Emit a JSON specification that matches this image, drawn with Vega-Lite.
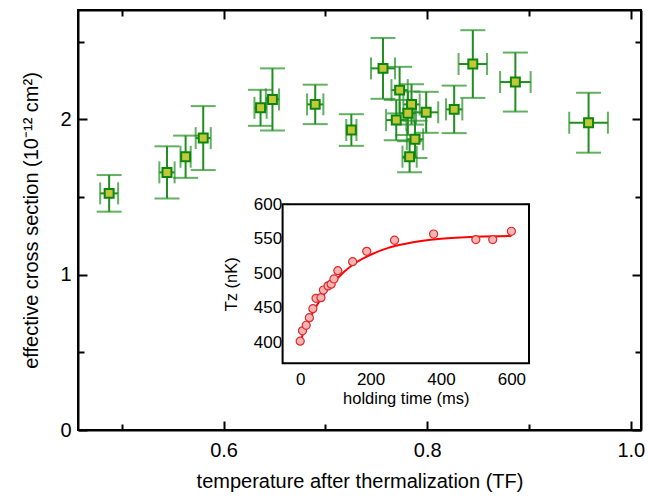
{
  "$schema": "https://vega.github.io/schema/vega-lite/v6.json",
  "width": 563,
  "height": 420,
  "autosize": "none",
  "padding": {"left": 78, "top": 10, "right": 7, "bottom": 70},
  "config": {
    "font": "Liberation Sans",
    "axis": {"grid": false, "labelFont": "Liberation Sans", "titleFont": "Liberation Sans", "labelColor": "black", "titleColor": "black", "titleFontWeight": "normal", "domainColor": "black", "tickColor": "black"},
    "view": {"stroke": "black", "strokeWidth": 2}
  },
  "datasets": {
    "main": [
      {"T": 0.4876, "Terr": 0.0088, "s": 1.524, "serr": 0.118},
      {"T": 0.5444, "Terr": 0.0075, "s": 1.659, "serr": 0.168},
      {"T": 0.5627, "Terr": 0.005, "s": 1.760, "serr": 0.136},
      {"T": 0.580, "Terr": 0.0074, "s": 1.880, "serr": 0.206},
      {"T": 0.6363, "Terr": 0.006, "s": 2.075, "serr": 0.116},
      {"T": 0.648, "Terr": 0.0065, "s": 2.129, "serr": 0.20},
      {"T": 0.690, "Terr": 0.008, "s": 2.097, "serr": 0.127},
      {"T": 0.7255, "Terr": 0.005, "s": 1.932, "serr": 0.102},
      {"T": 0.7566, "Terr": 0.0118, "s": 2.329, "serr": 0.196},
      {"T": 0.7729, "Terr": 0.008, "s": 2.189, "serr": 0.15},
      {"T": 0.7846, "Terr": 0.008, "s": 2.097, "serr": 0.13},
      {"T": 0.799, "Terr": 0.0118, "s": 2.046, "serr": 0.132},
      {"T": 0.7696, "Terr": 0.01, "s": 1.996, "serr": 0.13},
      {"T": 0.781, "Terr": 0.008, "s": 2.04, "serr": 0.14},
      {"T": 0.788, "Terr": 0.008, "s": 1.872, "serr": 0.12},
      {"T": 0.7827, "Terr": 0.007, "s": 1.760, "serr": 0.10},
      {"T": 0.8265, "Terr": 0.008, "s": 2.065, "serr": 0.153},
      {"T": 0.8448, "Terr": 0.014, "s": 2.357, "serr": 0.218},
      {"T": 0.8866, "Terr": 0.015, "s": 2.241, "serr": 0.19},
      {"T": 0.9585, "Terr": 0.019, "s": 1.979, "serr": 0.193}
    ],
    "inset": [
      {"t": 0, "Tz": 402}, {"t": 6.5, "Tz": 417}, {"t": 17, "Tz": 425}, {"t": 26, "Tz": 436},
      {"t": 36, "Tz": 449}, {"t": 45, "Tz": 464}, {"t": 59, "Tz": 465}, {"t": 66, "Tz": 476},
      {"t": 79, "Tz": 482}, {"t": 88, "Tz": 484.5}, {"t": 96, "Tz": 492}, {"t": 107, "Tz": 504},
      {"t": 149, "Tz": 517}, {"t": 189, "Tz": 532}, {"t": 268, "Tz": 548}, {"t": 379, "Tz": 557},
      {"t": 499, "Tz": 549}, {"t": 547, "Tz": 549}, {"t": 600, "Tz": 561}
    ],
    "fit": [
      {"t": 0, "Tz": 402}, {"t": 25, "Tz": 432}, {"t": 50, "Tz": 456}, {"t": 75, "Tz": 475},
      {"t": 100, "Tz": 490}, {"t": 150, "Tz": 513}, {"t": 200, "Tz": 527}, {"t": 250, "Tz": 537},
      {"t": 300, "Tz": 543}, {"t": 400, "Tz": 550}, {"t": 500, "Tz": 553}, {"t": 600, "Tz": 554}
    ]
  },
  "layer": [
    {
      "data": {"name": "main"},
      "resolve": {"axis": {"x": "independent", "y": "independent"}},
      "layer": [
        {
          "mark": {"type": "errorbar", "ticks": {"size": 25}, "thickness": 2, "color": "#1f8f1f"},
          "encoding": {
            "x": {"field": "T", "type": "quantitative", "scale": {"domain": [0.457, 1.01], "nice": false, "zero": false}, "axis": null},
            "y": {"field": "s", "type": "quantitative", "scale": {"domain": [0, 2.705], "nice": false, "zero": false}, "axis": null},
            "yError": {"field": "serr"}
          }
        },
        {
          "mark": {"type": "errorbar", "ticks": {"size": 22}, "thickness": 2, "color": "#1f8f1f"},
          "encoding": {
            "x": {"field": "T", "type": "quantitative", "scale": {"domain": [0.457, 1.01], "nice": false, "zero": false}, "axis": null},
            "xError": {"field": "Terr"},
            "y": {"field": "s", "type": "quantitative", "scale": {"domain": [0, 2.705], "nice": false, "zero": false}, "axis": null}
          }
        },
        {
          "mark": {"type": "point", "shape": "square", "filled": true, "size": 80, "fill": "#c3c83a", "stroke": "#0e860e", "strokeWidth": 2, "opacity": 1},
          "encoding": {
            "x": {"field": "T", "type": "quantitative", "scale": {"domain": [0.457, 1.01], "nice": false, "zero": false},
              "axis": {"orient": "bottom", "values": [0.5, 0.6, 0.7, 0.8, 0.9, 1.0], "labelExpr": "round(datum.value*10) % 2 === 0 ? format(datum.value, '.1f') : ''",
                "title": "temperature after thermalization (TF)", "titleFontSize": 20, "labelFontSize": 20, "labelPadding": 19, "titlePadding": 11,
                "domainWidth": 2, "tickWidth": 2, "tickSize": {"condition": {"test": "round(datum.value*10) % 2 === 0", "value": -9}, "value": -6}}},
            "y": {"field": "s", "type": "quantitative", "scale": {"domain": [0, 2.705], "nice": false, "zero": false},
              "axis": {"orient": "left", "values": [0, 0.5, 1, 1.5, 2, 2.5], "labelExpr": "round(datum.value*2) % 2 === 0 ? format(datum.value, 'd') : ''",
                "title": "effective cross section (10⁻¹² cm²)", "titleFontSize": 20, "labelFontSize": 20, "labelPadding": 16, "titlePadding": 18,
                "domainWidth": 2, "tickWidth": 2, "tickSize": {"condition": {"test": "round(datum.value*2) % 2 === 0", "value": -9}, "value": -6}}}
          }
        },
        {
          "mark": {"type": "point", "opacity": 0},
          "encoding": {
            "x": {"field": "T", "type": "quantitative", "scale": {"domain": [0.457, 1.01], "nice": false, "zero": false},
              "axis": {"orient": "top", "values": [0.5, 0.6, 0.7, 0.8, 0.9, 1.0], "labels": false, "title": null,
                "domainWidth": 2, "tickWidth": 2, "tickSize": {"condition": {"test": "round(datum.value*10) % 2 === 0", "value": -9}, "value": -6}}},
            "y": {"field": "s", "type": "quantitative", "scale": {"domain": [0, 2.705], "nice": false, "zero": false},
              "axis": {"orient": "right", "values": [0, 0.5, 1, 1.5, 2, 2.5], "labels": false, "title": null,
                "domainWidth": 2, "tickWidth": 2, "tickSize": {"condition": {"test": "round(datum.value*2) % 2 === 0", "value": -9}, "value": -6}}}
          }
        }
      ]
    },
    {
      "resolve": {"axis": {"x": "independent", "y": "independent"}},
      "layer": [
        {
          "data": {"values": [{"x1": -50, "x2": 650, "y1": 370, "y2": 600}]},
          "mark": {"type": "rect", "fill": "white", "stroke": "black", "strokeWidth": 2},
          "encoding": {
            "x": {"field": "x1", "type": "quantitative", "scale": {"domain": [-50, 650], "range": [204.6, 451], "nice": false, "zero": false}, "axis": null},
            "x2": {"field": "x2"},
            "y": {"field": "y1", "type": "quantitative", "scale": {"domain": [370, 600], "range": [353.3, 194.3], "nice": false, "zero": false}, "axis": null},
            "y2": {"field": "y2"}
          }
        },
        {
          "data": {"name": "fit"},
          "mark": {"type": "line", "color": "#ff0000", "strokeWidth": 2, "interpolate": "monotone"},
          "encoding": {
            "x": {"field": "t", "type": "quantitative", "scale": {"domain": [-50, 650], "range": [204.6, 451], "nice": false, "zero": false}, "axis": null},
            "y": {"field": "Tz", "type": "quantitative", "scale": {"domain": [370, 600], "range": [353.3, 194.3], "nice": false, "zero": false}, "axis": null}
          }
        },
        {
          "data": {"name": "inset"},
          "mark": {"type": "point", "shape": "circle", "filled": true, "size": 65, "fill": "#f5b5b5", "stroke": "#e02828", "strokeWidth": 1.2, "opacity": 1},
          "encoding": {
            "x": {"field": "t", "type": "quantitative", "scale": {"domain": [-50, 650], "range": [204.6, 451], "nice": false, "zero": false},
              "axis": {"orient": "bottom", "offset": -66.7, "values": [0, 100, 200, 300, 400, 500, 600], "labelExpr": "datum.value % 200 === 0 ? format(datum.value, 'd') : ''",
                "title": "holding time (ms)", "titleFontSize": 16.5, "labelFontSize": 17, "labelPadding": 14, "titlePadding": 3,
                "domain": false, "tickWidth": 1.5, "tickSize": {"condition": {"test": "datum.value % 200 === 0", "value": -6}, "value": -4}}},
            "y": {"field": "Tz", "type": "quantitative", "scale": {"domain": [370, 600], "range": [353.3, 194.3], "nice": false, "zero": false},
              "axis": {"orient": "left", "offset": -204.6, "values": [375, 400, 425, 450, 475, 500, 525, 550, 575, 600], "labelExpr": "datum.value % 50 === 0 ? format(datum.value, 'd') : ''",
                "title": "Tz (nK)", "titleFontSize": 16.5, "labelFontSize": 17, "labelPadding": 7, "titlePadding": 14,
                "domain": false, "tickWidth": 1.5, "tickSize": {"condition": {"test": "datum.value % 50 === 0", "value": -6}, "value": -4}}}
          }
        },
        {
          "data": {"name": "inset"},
          "mark": {"type": "point", "opacity": 0},
          "encoding": {
            "x": {"field": "t", "type": "quantitative", "scale": {"domain": [-50, 650], "range": [204.6, 451], "nice": false, "zero": false},
              "axis": {"orient": "top", "offset": -194.3, "values": [0, 100, 200, 300, 400, 500, 600], "labels": false, "title": null,
                "domain": false, "tickWidth": 1.5, "tickSize": {"condition": {"test": "datum.value % 200 === 0", "value": -6}, "value": -4}}},
            "y": {"field": "Tz", "type": "quantitative", "scale": {"domain": [370, 600], "range": [353.3, 194.3], "nice": false, "zero": false},
              "axis": {"orient": "right", "offset": -112, "values": [375, 400, 425, 450, 475, 500, 525, 550, 575, 600], "labels": false, "title": null,
                "domain": false, "tickWidth": 1.5, "tickSize": {"condition": {"test": "datum.value % 50 === 0", "value": -6}, "value": -4}}}
          }
        }
      ]
    }
  ],
  "resolve": {"scale": {"x": "independent", "y": "independent"}, "axis": {"x": "independent", "y": "independent"}}
}
